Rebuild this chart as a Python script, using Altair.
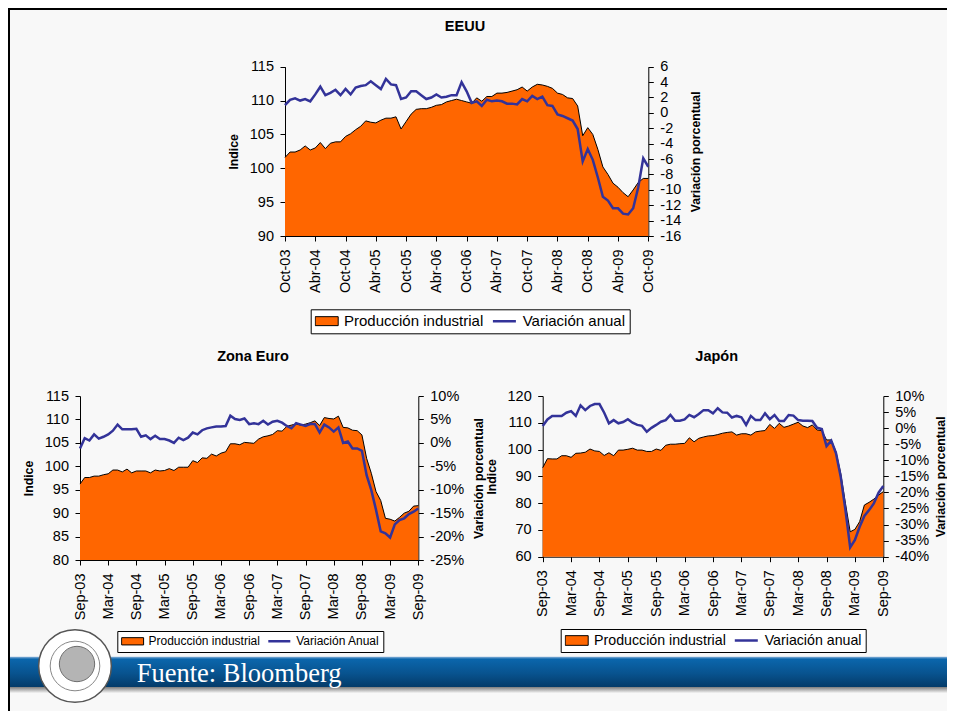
import json
import altair as alt
import pandas as pd

# ---------------- data ----------------
MESES = list(range(73))  # monthly index, 6 years + 1

EEUU_PROD = [101.6, 102.4, 102.4, 102.7, 103.3, 102.7, 103.0, 103.8, 102.9, 103.7, 103.9, 103.9,
             104.7, 105.1, 105.7, 106.2, 107.0, 106.8, 106.7, 107.1, 107.4, 107.4, 107.6, 105.8,
             106.9, 108.0, 108.7, 108.8, 108.8, 109.0, 109.3, 109.4, 109.8, 110.0, 110.2, 110.0,
             109.8, 109.6, 110.4, 109.9, 110.6, 110.6, 111.1, 111.1, 111.2, 111.4, 111.6, 112.0,
             111.4, 112.0, 112.4, 112.3, 112.1, 111.8, 111.1, 110.9, 110.4, 110.3, 109.2, 104.8,
             106.0, 105.0, 102.8, 100.2, 99.1, 97.8, 97.2, 96.4, 95.8, 96.8, 97.9, 98.5,
             98.5]
EEUU_VAR = [1.0, 1.7, 1.9, 1.6, 1.8, 1.5, 2.4, 3.4, 2.3, 2.6, 3.0, 2.3,
            3.1, 2.4, 3.3, 3.5, 3.6, 4.1, 3.6, 3.1, 4.4, 3.7, 3.6, 1.8,
            2.0, 2.8, 2.8, 2.3, 1.8, 2.0, 2.4, 2.0, 2.1, 2.3, 2.3, 4.0,
            2.8, 1.3, 1.5, 0.9, 1.7, 1.5, 1.6, 1.5, 1.2, 1.2, 1.1, 1.8,
            1.5, 2.2, 1.8, 2.1, 1.0, 0.9, -0.2, -0.4, -0.7, -1.0, -2.1, -6.3,
            -4.7, -6.1, -8.4, -10.9, -11.4, -12.4, -12.4, -13.1, -13.2, -12.4, -9.7, -5.9,
            -7.0]

EURO_PROD = [96.2, 97.6, 97.6, 97.9, 97.9, 98.2, 98.4, 99.2, 99.2, 98.8, 99.4, 98.6,
             99.0, 99.0, 99.0, 98.6, 99.2, 99.0, 99.1, 99.5, 99.1, 99.8, 99.8, 99.8,
             101.2, 100.8, 101.8, 101.7, 102.6, 102.2, 102.8, 103.1, 104.8, 104.8, 104.6, 105.1,
             105.0, 104.9, 105.8, 106.3, 106.5, 106.8, 107.6, 107.5, 108.5, 108.8, 109.0, 108.8,
             109.0, 109.3, 109.7, 108.7, 110.4, 110.2, 110.1, 110.7, 108.3, 108.2, 107.7, 107.6,
             106.7, 101.7, 98.5, 94.6, 92.7, 88.9, 88.7, 88.3, 89.1, 90.0, 90.4, 91.5,
             91.6]
EURO_VAR = [-1.2, 1.0, 0.5, 1.8, 0.9, 1.3, 1.8, 2.6, 3.9, 2.9, 2.9, 2.9,
            3.0, 1.3, 1.6, 0.8, 1.5, 0.8, 0.8, 0.5, 0.0, 1.1, 0.6, 1.1,
            2.2, 1.8, 2.7, 3.1, 3.3, 3.5, 3.5, 3.6, 5.8, 5.1, 4.9, 5.2,
            4.0, 4.2, 4.0, 4.7, 3.9, 4.5, 4.7, 4.3, 3.6, 3.1, 4.2, 3.9,
            3.6, 4.0, 4.0, 2.2, 3.9, 3.3, 2.4, 3.3, 0.0, 0.3, -1.2, -1.2,
            -1.7, -6.9, -10.1, -14.3, -18.9, -19.3, -20.2, -17.4, -16.5, -16.1, -15.2, -14.7,
            -14.0]

JAPON_PROD = [93.2, 96.6, 96.5, 96.5, 97.7, 97.7, 97.1, 98.6, 98.7, 99.0, 100.2, 99.5,
              99.3, 97.8, 98.8, 97.7, 99.8, 99.8, 100.1, 100.5, 99.8, 99.8, 99.3, 99.3,
              100.2, 99.7, 101.6, 102.0, 102.0, 102.2, 102.3, 104.4, 102.9, 104.2, 104.7, 105.1,
              105.2, 105.6, 106.1, 106.4, 106.6, 105.4, 105.9, 105.9, 105.4, 106.6, 106.9, 107.1,
              109.4, 107.9, 109.8, 108.3, 108.8, 109.5, 110.2, 108.8, 108.2, 109.2, 107.3, 107.1,
              103.6, 103.6, 99.2, 91.1, 79.9, 69.3, 70.2, 73.1, 79.3, 80.3, 81.5, 83.0,
              84.3]
JAPON_VAR = [0.7, 2.7, 3.8, 3.8, 3.8, 4.8, 5.3, 3.8, 7.1, 5.6, 6.9, 7.5,
             7.5, 4.8, 1.5, 2.5, 1.5, 1.9, 2.8, 1.7, 1.0, 0.7, -1.1, 0.1,
             1.0, 2.0, 2.5, 4.1, 2.3, 2.3, 2.7, 4.1, 3.4, 4.4, 5.6, 5.6,
             4.6, 6.2, 4.9, 4.8, 3.3, 3.8, 3.4, 1.0, 3.8, 2.5, 2.5, 4.6,
             2.8, 4.1, 2.2, 2.2, 4.1, 3.9, 2.5, 2.3, 2.3, 2.2, 0.1, -0.3,
             -5.6, -3.9, -7.8, -15.1, -25.5, -37.1, -34.8, -30.7, -27.3, -25.5, -23.4, -20.1,
             -18.0]

TICKS_EEUU = ["Oct-03", "Abr-04", "Oct-04", "Abr-05", "Oct-05", "Abr-06", "Oct-06",
              "Abr-07", "Oct-07", "Abr-08", "Oct-08", "Abr-09", "Oct-09"]
TICKS_SEP = ["Sep-03", "Mar-04", "Sep-04", "Mar-05", "Sep-05", "Mar-06", "Sep-06",
             "Mar-07", "Sep-07", "Mar-08", "Sep-08", "Mar-09", "Sep-09"]

LEY_EEUU = ["Producción industrial", "Variación anual"]
LEY_EURO = ["Producción industrial", "Variación Anual"]
LEY_JAPON = ["Producción industrial", "Variación anual"]

TITULOS = ["EEUU", "Zona Euro", "Japón"]
EJE_IZQ = "Indice"
EJE_DER = "Variación porcentual"
FUENTE = "Fuente: Bloomberg"

EEUU_IZQ = [90, 95, 100, 105, 110, 115]
EEUU_DER = [-16, -14, -12, -10, -8, -6, -4, -2, 0, 2, 4, 6]
EURO_IZQ = [80, 85, 90, 95, 100, 105, 110, 115]
EURO_DER = [-25, -20, -15, -10, -5, 0, 5, 10]
JAPON_IZQ = [60, 70, 80, 90, 100, 110, 120]
JAPON_DER = [-40, -35, -30, -25, -20, -15, -10, -5, 0, 5, 10]

# ---------------- style / layout ----------------
W, H = 939, 703
FONT = "Liberation Sans"
NARANJA = "#FF6600"
AZUL = "#333399"


def rect_path(h):
    return f"M-1,-{h}L1,-{h}L1,{h}L-1,{h}Z"


def one(value):
    return pd.DataFrame({"t": [value]})


def panel(prod, var, ticks, labels, left, right, pct, xr, yr, leg, rpad=8.5):
    df = pd.DataFrame({"mes": MESES, "prod": prod, "var": var})
    xenc = alt.X(
        "mes:Q",
        scale=alt.Scale(domain=[0, 72], range=[xr[0], xr[1]], nice=False, zero=False),
        axis=alt.Axis(orient="bottom", offset=yr[0] - H, values=list(range(0, 73, 6)),
                      labelExpr=json.dumps(ticks) + "[round(datum.value / 6)]",
                      labelAngle=270, labelAlign="right", labelBaseline="middle",
                      labelPadding=8, labelFlush=False, labelOverlap=False, title=None),
    )
    area = alt.Chart(df).mark_area(
        color=NARANJA, opacity=1, fillOpacity=1,
        line={"color": "black", "strokeWidth": 1}
    ).encode(
        x=xenc,
        y=alt.Y("prod:Q",
                scale=alt.Scale(domain=[left[0], left[-1]], range=[yr[0], yr[1]],
                                nice=False, zero=False),
                axis=alt.Axis(orient="left", offset=-xr[0], values=left, title=EJE_IZQ,
                              labelExpr="datum.value + ''", labelOverlap=False)),
        y2=alt.Y2Datum(left[0]),
    )
    lab = "datum.value + '%'" if pct else "datum.value + ''"
    line = alt.Chart(df).mark_line(color=AZUL, strokeWidth=2.5, opacity=1).encode(
        x=xenc,
        y=alt.Y("var:Q",
                scale=alt.Scale(domain=[right[0], right[-1]], range=[yr[0], yr[1]],
                                nice=False, zero=False),
                axis=alt.Axis(orient="right", offset=xr[1] - W, values=right, title=EJE_DER,
                              titleAngle=270, titleBaseline="top", titlePadding=rpad,
                              labelExpr=lab, labelOverlap=False)),
    )
    L = alt.Legend(orient="none", legendX=leg["x"], legendY=leg["y"], direction="horizontal",
                   title=None, labelFont=FONT, labelFontSize=leg["fs"], labelColor="black",
                   labelOffset=leg["lo"], columnPadding=leg["cp"], padding=leg["pad"],
                   symbolSize=leg["size"], clipHeight=leg["ch"], strokeColor="black",
                   fillColor="white", symbolOpacity=1, symbolFillColor="transparent")
    ldf = pd.DataFrame({"serie": labels})
    pts = alt.Chart(ldf).transform_filter("false").mark_point(opacity=1).encode(
        fill=alt.Fill("serie:N", scale=alt.Scale(domain=labels, range=[NARANJA, "transparent"]),
                      legend=L),
        stroke=alt.Stroke("serie:N", scale=alt.Scale(domain=labels, range=["black", AZUL]),
                          legend=L),
        shape=alt.Shape("serie:N",
                        scale=alt.Scale(domain=labels, range=[rect_path(leg["h"]), "stroke"]),
                        legend=L),
        strokeWidth=alt.StrokeWidth("serie:N", scale=alt.Scale(domain=labels, range=[1, 2.5]),
                                    legend=L),
    )
    return alt.layer(area, line, pts).resolve_scale(y="independent")


p_eeuu = panel(EEUU_PROD, EEUU_VAR, TICKS_EEUU, LEY_EEUU, EEUU_IZQ, EEUU_DER, False,
               (277, 640.3), (228, 58.7),
               dict(x=302.7, y=301.3, fs=15, lo=5.3, cp=7.7, pad=4, size=529, ch=15.4, h=0.39))
p_euro = panel(EURO_PROD, EURO_VAR, TICKS_SEP, LEY_EURO, EURO_IZQ, EURO_DER, True,
               (72, 410.3), (552, 388),
               dict(x=109.3, y=623, fs=12, lo=4.4, cp=6.7, pad=3.8, size=484, ch=13, h=0.33))
p_japon = panel(JAPON_PROD, JAPON_VAR, TICKS_SEP, LEY_JAPON, JAPON_IZQ, JAPON_DER, True,
                (534.7, 875.3), (548.7, 388),
                dict(x=552.7, y=621, fs=14.2, lo=5.4, cp=6.6, pad=4, size=529, ch=14.7, h=0.42),
                rpad=6)

# ---------------- slide decorations ----------------
banda = alt.Chart(one(0)).mark_rect(
    color=alt.LinearGradient(
        gradient="linear", x1=0, x2=0, y1=0, y2=1,
        stops=[alt.GradientStop(color="#8DB4DA", offset=0),
               alt.GradientStop(color="#0B66AC", offset=0.08),
               alt.GradientStop(color="#08538F", offset=0.55),
               alt.GradientStop(color="#043B69", offset=1)])
).encode(x=alt.value(0), x2=alt.value(W), y=alt.value(648.7), y2=alt.value(679))

sombra = alt.Chart(one(0)).mark_rect(
    color=alt.LinearGradient(
        gradient="linear", x1=0, x2=0, y1=0, y2=1,
        stops=[alt.GradientStop(color="#7D7D7D", offset=0),
               alt.GradientStop(color="#F4F4F4", offset=1)])
).encode(x=alt.value(0), x2=alt.value(W), y=alt.value(679), y2=alt.value(685))

borde_izq = alt.Chart(one(0)).mark_rule(color="black", strokeWidth=2).encode(
    x=alt.value(1), y=alt.value(0), y2=alt.value(H))
borde_sup = alt.Chart(one(0)).mark_rule(color="black", strokeWidth=2).encode(
    x=alt.value(0), x2=alt.value(W), y=alt.value(1))

logo_ext = alt.Chart(one(0)).mark_point(
    shape="circle", filled=True, fill="white", stroke="#555555", strokeWidth=1.5,
    size=5281, opacity=1).encode(x=alt.value(67), y=alt.value(658))
logo_int = alt.Chart(one(0)).mark_point(
    shape="circle", filled=False, stroke="#888888", strokeWidth=1,
    size=2460, opacity=1).encode(x=alt.value(67), y=alt.value(658))
logo_cab = alt.Chart(one(0)).mark_point(
    shape="circle", filled=True, fill="#B4B4B4", stroke="#6E6E6E", strokeWidth=1,
    size=1250, opacity=1).encode(x=alt.value(69), y=alt.value(656))

fuente = alt.Chart(one(FUENTE)).mark_text(
    align="left", baseline="alphabetic", font="Liberation Serif", fontSize=26.5,
    color="white").encode(x=alt.value(128.7), y=alt.value(673.7), text="t:N")


def titulo(txt, x, y):
    return alt.Chart(one(txt)).mark_text(
        align="center", baseline="middle", font=FONT, fontSize=14.5, fontWeight="bold",
        color="black").encode(x=alt.value(x), y=alt.value(y), text="t:N")


t1 = titulo(TITULOS[0], 457, 19.3)
t2 = titulo(TITULOS[1], 245, 348.7)
t3 = titulo(TITULOS[2], 708.7, 348.7)

chart = alt.layer(
    banda, sombra, borde_izq, borde_sup, t1, t2, t3,
    p_eeuu, p_euro, p_japon,
    logo_ext, logo_int, logo_cab, fuente,
).resolve_scale(
    x="independent", y="independent", fill="independent", stroke="independent",
    shape="independent", strokeWidth="independent",
).properties(
    width=W, height=H, padding=0, autosize=alt.AutoSizeParams(type="none"),
    background="#F8F8F8",
).configure_view(
    stroke="transparent"
).configure_axis(
    labelFont=FONT, labelFontSize=14.5, labelColor="black",
    titleFont=FONT, titleFontSize=12.3, titleFontWeight="bold", titleColor="black",
    tickColor="black", tickSize=5, tickWidth=1, domainColor="black", domainWidth=1,
    grid=False, labelPadding=6.5, titlePadding=8.5, zindex=1,
)

chart.save("out.html", embed_options={"renderer": "svg", "actions": False})
